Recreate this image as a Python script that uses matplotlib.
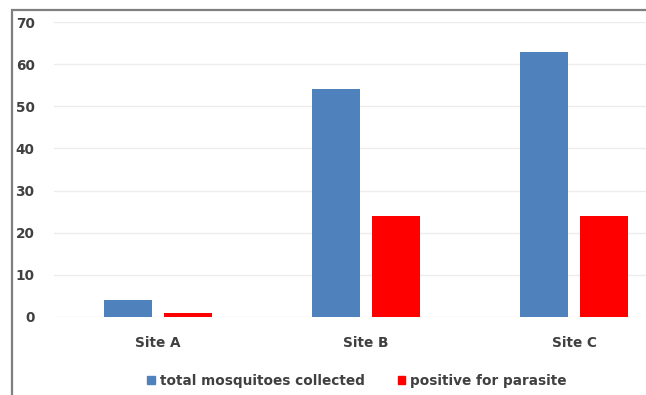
import numpy as np
import matplotlib.pyplot as plt
from matplotlib.patches import Rectangle, Patch

# data
sites = ['Site A', 'Site B', 'Site C']
total_collected = [4, 54, 63]
positive = [1, 24, 24]
series_labels = ['total mosquitoes collected', 'positive for parasite']

# styles
blue = '#4F81BD'
red = '#FF0000'
txt = '#404040'
fs = 9.8
bw = 0.23
off = 0.145

fig = plt.figure(figsize=(6.46, 3.95), dpi=100)
fig.patch.set_facecolor('white')

# outer frame of the chart area
fig.patches.append(Rectangle((12 / 646, -0.2), 1.2, 1.2 - 10 / 395,
                             transform=fig.transFigure, fill=False,
                             edgecolor='#7f7f7f', linewidth=1.6))

ax = fig.add_axes([54 / 646, 78 / 395, 624 / 646, 295 / 395])
x = np.arange(len(sites))
ax.bar(x - off, total_collected, bw, color=blue, zorder=3)
ax.bar(x + off, positive, bw, color=red, zorder=3)

ax.set_xlim(-0.5, len(sites) - 0.5)
ax.set_ylim(0, 70)
ax.set_yticks(np.arange(0, 71, 10))
ax.grid(axis='y', color='#ececec', linewidth=1.0, zorder=0)
for s in ax.spines.values():
    s.set_visible(False)
ax.tick_params(length=0)
ax.tick_params(axis='y', pad=14)
ax.tick_params(axis='x', pad=14)
ax.set_xticks(x)
ax.set_xticklabels(sites)
for lab in ax.get_xticklabels() + ax.get_yticklabels():
    lab.set_fontsize(fs)
    lab.set_fontweight('bold')
    lab.set_color(txt)

handles = [Patch(color=blue), Patch(color=red)]
leg = fig.legend(handles, series_labels, ncol=2, loc='center',
                 bbox_to_anchor=(357 / 646, 1 - 381 / 395), frameon=False,
                 handlelength=0.55, handleheight=0.55, handletextpad=0.4,
                 columnspacing=2.4, prop={'size': fs, 'weight': 'bold'})
for t in leg.get_texts():
    t.set_color(txt)

plt.savefig('out.png', dpi=100)
